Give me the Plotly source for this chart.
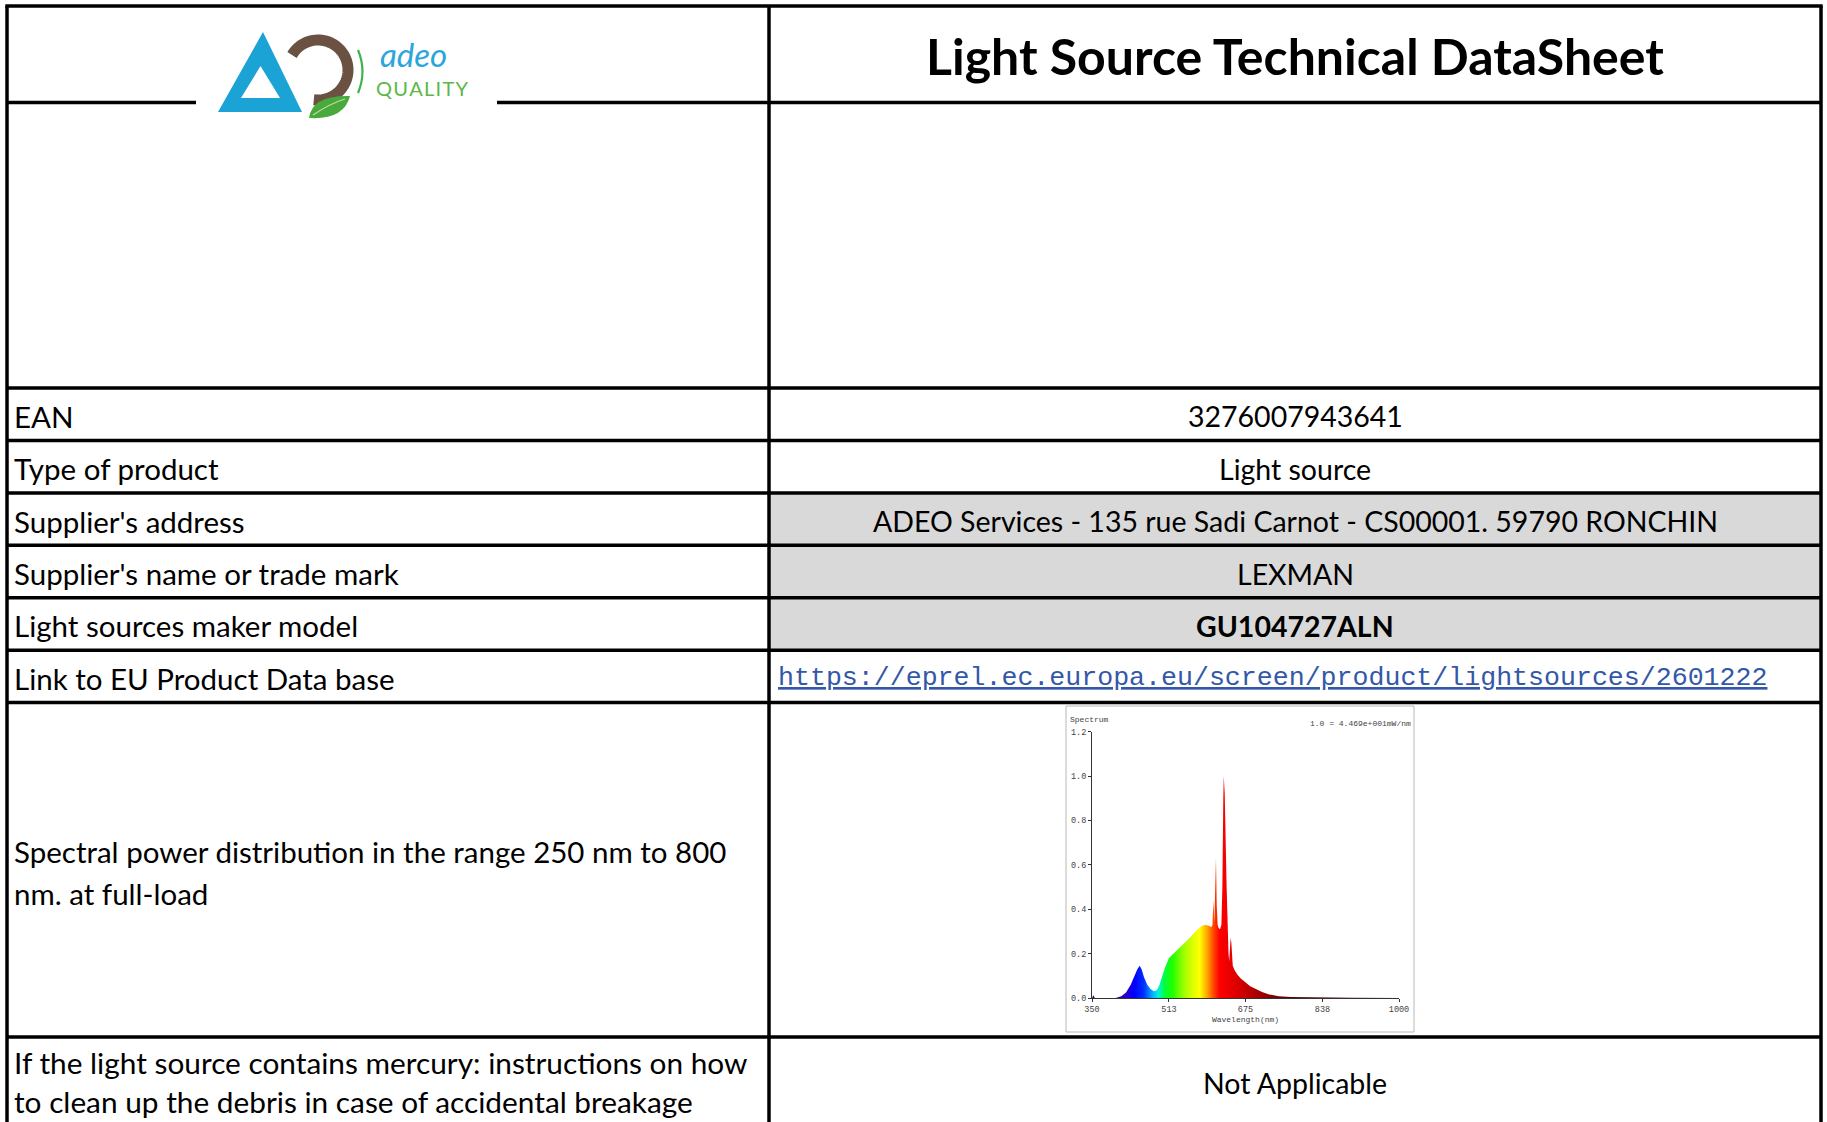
import numpy as np
import plotly.graph_objects as go

W, H = 1827, 1122

# ---------------- data ----------------
title = "Light Source Technical DataSheet"
row_labels = ["EAN", "Type of product", "Supplier's address", "Supplier's name or trade mark",
              "Light sources maker model", "Link to EU Product Data base"]
row_values = ["3276007943641", "Light source", "ADEO Services - 135 rue Sadi Carnot - CS00001. 59790 RONCHIN",
              "LEXMAN", "<b>GU104727ALN</b>",
              "https://eprel.ec.europa.eu/screen/product/lightsources/2601222"]
spectral_label = ["Spectral power distribution in the range 250 nm to 800", "nm. at full-load"]
mercury_label = ["If the light source contains mercury: instructions on how",
                 "to clean up the debris in case of accidental breakage"]
mercury_value = "Not Applicable"

wavelength = [350, 353, 356, 400, 412, 422, 432, 440, 446, 451, 455, 460, 467, 474, 481, 487,
              493, 499, 505, 513, 522, 532, 542, 552, 562, 572, 582, 590, 598, 603, 605, 607,
              609, 611, 612.5, 614, 616, 618, 621, 624, 626, 628, 629, 631, 632, 633.5, 635, 637,
              639, 640.5, 642, 643.5, 645, 646.5, 648, 652, 658, 665, 675, 685, 697, 710, 725,
              745, 770, 820, 900, 1000]
intensity = [0.0, 0.012, 0.0, 0.0, 0.008, 0.025, 0.06, 0.1, 0.13, 0.145, 0.13, 0.095, 0.06, 0.04, 0.03, 0.035,
             0.06, 0.1, 0.14, 0.18, 0.2, 0.22, 0.24, 0.26, 0.285, 0.305, 0.325, 0.33, 0.325, 0.32, 0.33, 0.44,
             0.34, 0.55, 0.63, 0.42, 0.33, 0.315, 0.31, 0.33, 0.5, 0.9, 1.0, 0.92, 0.71, 0.66, 0.5, 0.3,
             0.2, 0.165, 0.22, 0.27, 0.25, 0.18, 0.145, 0.125, 0.105, 0.088, 0.07, 0.053, 0.04, 0.027, 0.016,
             0.008, 0.004, 0.002, 0.001, 0.0]
x_ticks = [350, 513, 675, 838, 1000]
y_ticks = [0.0, 0.2, 0.4, 0.6, 0.8, 1.0, 1.2]

# wavelength -> colour of the spectrum fill
color_nm = [380, 420, 440, 460, 478, 490, 503, 520, 545, 565, 578, 592, 606, 620, 660, 700, 740, 780]
color_hex = ["#3a0070", "#2800c8", "#0000ff", "#0030ff", "#00b0ff", "#00f0e0", "#00ff40", "#20ff00",
             "#a0ff00", "#e0ff00", "#ffff00", "#ffb000", "#ff5000", "#ff0000", "#d80000", "#a80000",
             "#780000", "#500000"]

# ---------------- layout geometry (pixels) ----------------
XL, XM, XR = 7, 769, 1821
ROWS = [6, 102.5, 388, 440.4, 492.9, 545.3, 597.7, 650.2, 702.6, 1037, 1125]
LW = 3.5

fig = go.Figure()

c0, c1 = color_nm[0], color_nm[-1]
cscale = [[(n - c0) / (c1 - c0), c] for n, c in zip(color_nm, color_hex)]
fig.add_trace(go.Scatter(
    x=wavelength, y=intensity, mode="lines", line=dict(width=0.6, color="rgba(0,0,0,0)"),
    fill="tozeroy", fillgradient=dict(type="horizontal", colorscale=cscale, start=c0, stop=c1),
    xaxis="x2", yaxis="y2", hoverinfo="skip", showlegend=False))

shapes = []
def line(x0, y0, x1, y1, w=LW, c="black"):
    shapes.append(dict(type="line", xref="x", yref="y", x0=x0, y0=y0, x1=x1, y1=y1,
                       line=dict(color=c, width=w), layer="above"))

shapes.append(dict(type="rect", xref="x", yref="y", x0=XM, x1=XR, y0=ROWS[4], y1=ROWS[7],
                   fillcolor="#d9d9d9", line=dict(width=0), layer="below"))
shapes.append(dict(type="rect", xref="x", yref="y", x0=1066, x1=1414, y0=706, y1=1032,
                   fillcolor="white", line=dict(width=1, color="#b8b8b8"), layer="below"))

line(XL - 1.7, ROWS[0], XR + 1.7, ROWS[0])
line(XL, ROWS[1], 196, ROWS[1])
line(497, ROWS[1], XR, ROWS[1])
for y in ROWS[2:-1]:
    line(XL, y, XR, y)
line(XL, ROWS[0], XL, H + 5)
line(XM, ROWS[0], XM, H + 5)
line(XR, ROWS[0], XR, H + 5)

# ---------------- logo ----------------
shapes.append(dict(type="path", xref="x", yref="y",
                   path="M 263,32 L 218,112 L 302,112 Z M 260.5,66 L 241,98 L 280,98 Z",
                   fillcolor="#1ba3d6", line=dict(width=0), fillrule="evenodd", layer="above"))
ang = np.radians(np.linspace(-150, 98, 60))
cx, cy, r = 318, 70, 30
pts = " L ".join(f"{cx + r*np.cos(a):.2f},{cy + r*np.sin(a):.2f}" for a in ang)
shapes.append(dict(type="path", xref="x", yref="y", path="M " + pts,
                   line=dict(color="#6a5142", width=11), layer="above"))
shapes.append(dict(type="path", xref="x", yref="y",
                   path="M 309,118 Q 312,95 350,96 Q 344,120 309,118 Z",
                   fillcolor="#4aa93c", line=dict(width=0), layer="above"))
shapes.append(dict(type="path", xref="x", yref="y",
                   path="M 313,115 Q 329,104 345,99",
                   line=dict(color="#b9e0a8", width=1.2), layer="above"))
shapes.append(dict(type="path", xref="x", yref="y",
                   path="M 358,50 Q 367,71.5 358,93",
                   line=dict(color="#3cb44b", width=2.2), layer="above"))

ann = []
def text(x, y, s, size=29, xanchor="left", color="black", family="Lato", **kw):
    ann.append(dict(x=x, y=y, xref="x", yref="y", text=s, showarrow=False, xanchor=xanchor,
                    yanchor="middle", align="left" if xanchor == "left" else "center",
                    font=dict(family=family, size=size, color=color, **kw)))

text(413, 54, "adeo", size=33, xanchor="center", color="#2aa6dc", style="italic")
text(422, 88, "\u200a".join("QUALITY"), size=20, xanchor="center", color="#5bb846")

text((XM + XR) / 2, 56, "<b>" + title + "</b>", size=50, xanchor="center")

for i, (lab, val) in enumerate(zip(row_labels, row_values)):
    yc = (ROWS[2 + i] + ROWS[3 + i]) / 2 + 2
    text(12, yc, lab, size=29.5)
    if i == 5:
        text(776, yc, val, size=26.6, family="Liberation Mono", color="#3358a8", lineposition="under")
    else:
        text((XM + XR) / 2, yc, val, size=28.5, xanchor="center")

text(12, 851, spectral_label[0], size=29.5)
text(12, 893, spectral_label[1], size=29.5)
text(12, 1062, mercury_label[0], size=29.8)
text(12, 1101, mercury_label[1], size=29.8)
text((XM + XR) / 2, 1083, mercury_value, size=28.5, xanchor="center")

mono = "Liberation Mono"
text(1068, 719, "Spectrum", size=8, color="#444", family=mono)
text(1413, 723, "1.0 = 4.469e+001mW/nm", size=8, xanchor="right", color="#444", family=mono)
ann[-1]["align"] = "right"

px0, px1 = 1092, 1399
py0, py1 = 998, 731.7
fig.update_layout(
    template="none",
    width=W, height=H, margin=dict(l=0, r=0, t=0, b=0, pad=0),
    paper_bgcolor="white", plot_bgcolor="rgba(0,0,0,0)",
    xaxis=dict(range=[0, W], domain=[0, 1], visible=False, fixedrange=True, automargin=False),
    yaxis=dict(range=[H, 0], domain=[0, 1], visible=False, fixedrange=True, automargin=False),
    xaxis2=dict(domain=[px0 / W, px1 / W], anchor="y2", range=[350, 1000], tickvals=x_ticks,
                showline=True, linecolor="#333", linewidth=1, ticks="outside", ticklen=3,
                tickcolor="#333", showgrid=False, zeroline=False, automargin=False,
                tickfont=dict(family=mono, size=8.5, color="#444"),
                title=dict(text="Wavelength(nm)", font=dict(family=mono, size=8, color="#444"), standoff=2)),
    yaxis2=dict(domain=[1 - py0 / H, 1 - py1 / H], anchor="x2", range=[0, 1.2], tickvals=y_ticks,
                tickformat=".1f", showline=True, linecolor="#333", linewidth=1, ticks="outside",
                ticklen=3, tickcolor="#333", showgrid=False, zeroline=False, automargin=False,
                tickfont=dict(family=mono, size=8.5, color="#444")),
    shapes=shapes, annotations=ann, showlegend=False,
)

fig.write_html("out.html", config={"displayModeBar": False},
               post_script="document.body.style.margin='0';document.body.style.overflow='hidden';")
